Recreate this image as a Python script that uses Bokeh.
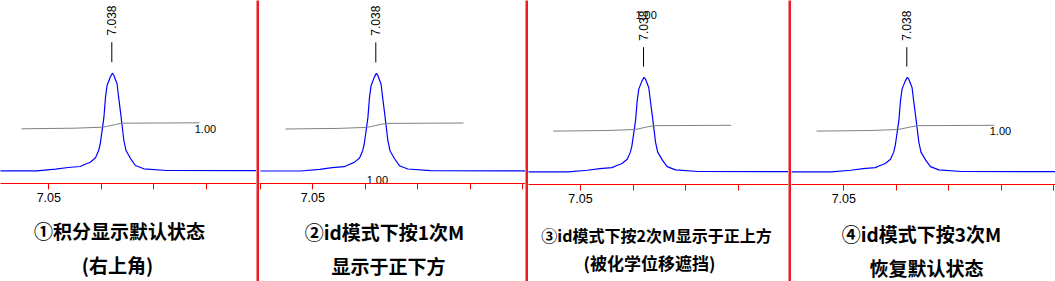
import numpy as np
from bokeh.plotting import figure
from bokeh.layouts import row, column
from bokeh.models import FixedTicker, Range1d
from bokeh.core.properties import value
from bokeh.embed import file_html
from bokeh.resources import INLINE

# ---- data ----
# 1H spectrum around the 7.038 ppm peak (ppm, intensity in arbitrary units)
peak_ppm = [7.0600, 7.0523, 7.0487, 7.0463, 7.0440, 7.0433, 7.0421, 7.0411, 7.0405,
            7.0402, 7.0398, 7.0395, 7.0392, 7.0389, 7.0383, 7.0379, 7.0376, 7.0370,
            7.0367, 7.0363, 7.0360, 7.0357, 7.0353, 7.0344, 7.0335, 7.0319, 7.0276, 7.0000]
peak_int = [0.0, 0.0, 1.6, 3.3, 4.3, 6.0, 8.6, 13.0, 20.3,
            27.0, 42.0, 53.6, 73.6, 85.3, 93.6, 97.6, 95.3, 87.0,
            73.6, 57.0, 43.6, 30.3, 20.3, 12.0, 5.3, 2.0, 0.3, 0.0]
# integral curve
integral_ppm = [7.0552, 7.0451, 7.0398, 7.0390, 7.0373, 7.0360, 7.0213]
integral_val = [42.0, 42.6, 43.6, 44.3, 46.3, 47.6, 48.0]
peak_label = "7.038"
peak_pos = 7.038
integral_label = "1.00"
tick_major = [7.05]
tick_minor = [7.07, 7.06, 7.04, 7.03, 7.02, 7.01, 7.00]
captions = [
    ["①积分显示默认状态", "(右上角)"],
    ["②id模式下按1次M", "显示于正下方"],
    ["③id模式下按2次M显示于正上方", "(被化学位移遮挡)"],
    ["④id模式下按3次M", "恢复默认状态"],
]

# ---- layout / style ----
H = 281
AX_AREA = 25
PX_PER_PPM = 5250.0
RED = "#ed1c24"
AXRED = "#ff0000"
panels = [
    dict(w=256, off=48.3, base=170.3, axis=183, k=1.0, mode="right",
         cap=[(119, 230, "19px"), (117, 263.5, "19px")]),
    dict(w=266, off=53.3, base=170.5, axis=183, k=1.0, mode="below",
         cap=[(125, 231, "19px"), (129, 265, "19px")]),
    dict(w=260, off=52.0, base=171.3, axis=184, k=0.969, mode="above",
         cap=[(128, 234, "16px"), (121, 262, "17px")]),
    dict(w=264, off=52.3, base=171.3, axis=184, k=0.969, mode="right",
         cap=[(130, 232.5, "19px"), (135, 267, "19px")]),
]

children = []
for i, pc in enumerate(panels):
    w, off, base, axis_px, k = pc["w"], pc["off"], pc["base"], pc["axis"], pc["k"]
    x0 = 7.05 + off / PX_PER_PPM
    x1 = 7.05 - (w - off) / PX_PER_PPM
    y0 = -(axis_px - base) / k
    y1 = base / k
    top_h = axis_px + AX_AREA

    def py2y(py):
        return (base - py) / k

    p = figure(width=w, height=top_h, x_range=Range1d(x0, x1), y_range=Range1d(y0, y1),
               output_backend="svg", toolbar_location=None, y_axis_location=None,
               min_border_left=0, min_border_right=0, min_border_top=0,
               min_border_bottom=AX_AREA, outline_line_color=None,
               background_fill_color="white", border_fill_color="white")
    p.grid.visible = False
    ax = p.xaxis[0]
    ax.ticker = FixedTicker(ticks=tick_major, minor_ticks=tick_minor)
    ax.axis_line_color = AXRED
    ax.axis_line_width = 1
    ax.major_tick_line_color = AXRED
    ax.minor_tick_line_color = AXRED
    ax.major_tick_out = 6
    ax.major_tick_in = 0
    ax.minor_tick_out = 6
    ax.minor_tick_in = 0
    ax.major_label_standoff = 3
    ax.major_label_text_font = "Liberation Sans"
    ax.major_label_text_font_size = "12.5px"
    ax.major_label_text_color = "black"

    # spectrum
    p.line(peak_ppm, peak_int, line_color="#0000ff", line_width=1.2)
    # integral curve
    p.line(integral_ppm, integral_val, line_color="#808080", line_width=1)
    # peak marker and label
    p.segment(x0=[peak_pos], y0=[108.6], x1=[peak_pos], y1=[128.6],
              line_color="black", line_width=1)
    p.text(x=[peak_pos], y=[135.3], text=[peak_label], angle=np.pi / 2,
           text_align="left", text_baseline="middle",
           text_font=value("Liberation Sans"), text_font_size="12px",
           text_color="black")
    # integral value label
    if pc["mode"] == "right":
        p.text(x=[integral_ppm[-1] + 0.0009], y=[integral_val[0] - 0.2], text=[integral_label],
               text_align="left", text_baseline="middle",
               text_font=value("Liberation Sans"), text_font_size="11px", text_color="black")
    elif pc["mode"] == "below":
        p.text(x=[peak_pos - 0.0003], y=[py2y(179)], text=[integral_label],
               text_align="center", text_baseline="middle",
               text_font=value("Liberation Sans"), text_font_size="11px", text_color="black")
    else:
        p.text(x=[peak_pos - 0.0005], y=[py2y(14)], text=[integral_label],
               text_align="center", text_baseline="middle",
               text_font=value("Liberation Sans"), text_font_size="11px", text_color="black")

    # captions in a strip below the axis (coordinates in pixels of the whole picture)
    cap_h = H - top_h
    c = figure(width=w, height=cap_h, x_range=Range1d(0, w), y_range=Range1d(H, top_h),
               output_backend="svg", toolbar_location=None, x_axis_location=None,
               y_axis_location=None, min_border=0, outline_line_color=None,
               background_fill_color="white", border_fill_color="white")
    c.grid.visible = False
    for (cx, cy, fs), txt in zip(pc["cap"], captions[i]):
        c.text(x=[cx], y=[cy], text=[txt], text_align="center", text_baseline="middle",
               text_font=value("Noto Sans CJK SC"), text_font_style="bold",
               text_font_size=fs, text_color="black")
    children.append(column(p, c, spacing=0))
    if i < len(panels) - 1:
        s = figure(width=3, height=H, output_backend="svg", toolbar_location=None,
                   x_axis_location=None, y_axis_location=None, min_border=0,
                   outline_line_color=None, background_fill_color=RED,
                   border_fill_color=RED)
        s.grid.visible = False
        children.append(s)

layout = row(children, spacing=0)
open("out.html", "w").write(file_html(layout, INLINE))
